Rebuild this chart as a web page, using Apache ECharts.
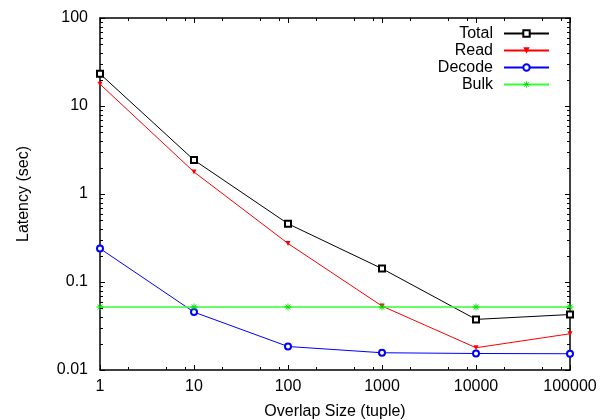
<!DOCTYPE html>
<html>
<head>
<meta charset="utf-8">
<script src="https://cdn.jsdelivr.net/npm/echarts@6/dist/echarts.min.js"></script>
<style>
  html, body { margin: 0; padding: 0; background: #fff; }
  #chart { width: 613px; height: 420px; }
</style>
</head>
<body>
<div id="chart"></div>
<script>
// overlap sizes (x) and latencies in seconds
var sizes = [1, 10, 100, 1000, 10000, 100000];
var total = [23.2, 2.43, 0.459, 0.142, 0.0376, 0.0427];
var read = [17.7, 1.78, 0.274, 0.0533, 0.0179, 0.0258];
var decode = [0.24, 0.0455, 0.0185, 0.0157, 0.0154, 0.0153];
var bulk = [0.052, 0.052, 0.052, 0.052, 0.052, 0.052];

// minor tick multipliers per decade (gnuplot style)
var xDecades = [1, 10, 100, 1000, 10000];
var xMinorMul = [2, 5, 8];
var yDecades = [0.01, 0.1, 1, 10];
var yMinorMul = [2, 3, 4, 5, 6, 7, 8, 9];

var font = 'Liberation Sans';

function pairs(ys) {
  return sizes.map(function (x, i) { return [x, ys[i]]; });
}

function fmt(v) {
  return String(Number(v.toPrecision(3)));
}

var minorTicks = [];
xDecades.forEach(function (d) {
  xMinorMul.forEach(function (m) { minorTicks.push([d * m, 1, 0]); });
});
yDecades.forEach(function (d) {
  yMinorMul.forEach(function (m) { minorTicks.push([1, d * m, 1]); });
});

var star = 'path://M-0.6,-5h1.2v10h-1.2z M-5,-0.6h10v1.2h-10z M-3.9,-3.1L-3.1,-3.9L3.9,3.1L3.1,3.9z M3.9,-3.1L3.1,-3.9L-3.9,3.1L-3.1,3.9z';

var myChart = echarts.init(document.getElementById('chart'));

var axisCommon = {
  axisLine: { lineStyle: { color: '#000', width: 1.5 } },
  axisTick: { inside: true, length: 5, lineStyle: { color: '#000', width: 1 } },
  splitLine: { show: false }
};

option = {
  backgroundColor: '#fff',
  animation: false,
  grid: { left: 100, right: 43, top: 18, bottom: 50, outerBoundsMode: 'none', containLabel: false },
  legend: {
    orient: 'vertical',
    right: 58,
    top: 20,
    align: 'right',
    itemWidth: 45,
    itemHeight: 8,
    itemGap: 0,
    textStyle: { fontFamily: font, fontSize: 16, color: '#000', lineHeight: 17, padding: [0, 6, 0, 0] },
    data: ['Total', 'Read', 'Decode', 'Bulk']
  },
  xAxis: [
    Object.assign({
      type: 'log', logBase: 10, min: 1, max: 100000,
      name: 'Overlap Size (tuple)', nameLocation: 'middle', nameGap: 34,
      nameTextStyle: { fontFamily: font, fontSize: 16, color: '#000' },
      axisLabel: { fontFamily: font, fontSize: 16, color: '#000', margin: 9, formatter: fmt }
    }, axisCommon),
    Object.assign({
      type: 'log', logBase: 10, min: 1, max: 100000, position: 'top',
      axisLabel: { show: false }
    }, axisCommon)
  ],
  yAxis: [
    Object.assign({
      type: 'log', logBase: 10, min: 0.01, max: 100,
      name: 'Latency (sec)', nameLocation: 'middle', nameGap: 68, nameRotate: 90,
      nameTextStyle: { fontFamily: font, fontSize: 16, color: '#000' },
      axisLabel: { fontFamily: font, fontSize: 16, color: '#000', margin: 12, formatter: fmt }
    }, axisCommon),
    Object.assign({
      type: 'log', logBase: 10, min: 0.01, max: 100, position: 'right',
      axisLabel: { show: false }
    }, axisCommon)
  ],
  series: [
    {
      type: 'custom',
      silent: true,
      clip: false,
      z: 5,
      data: minorTicks,
      renderItem: function (params, api) {
        var cs = params.coordSys;
        var p = api.coord([api.value(0), api.value(1)]);
        var style = { stroke: '#000', lineWidth: 1 };
        if (api.value(2) === 0) {
          var x = Math.round(p[0]) + 0.5;
          var b = cs.y + cs.height, t = cs.y;
          return { type: 'group', children: [
            { type: 'line', shape: { x1: x, y1: b, x2: x, y2: b - 3 }, style: style },
            { type: 'line', shape: { x1: x, y1: t, x2: x, y2: t + 3 }, style: style }
          ] };
        }
        var y = Math.round(p[1]) + 0.5;
        var l = cs.x, r = cs.x + cs.width;
        return { type: 'group', children: [
          { type: 'line', shape: { x1: l, y1: y, x2: l + 3, y2: y }, style: style },
          { type: 'line', shape: { x1: r, y1: y, x2: r - 3, y2: y }, style: style }
        ] };
      }
    },
    {
      name: 'Total', type: 'line', data: pairs(total),
      symbol: 'emptyRect', symbolSize: 6,
      lineStyle: { color: '#000', width: 1 },
      itemStyle: { color: '#000', borderWidth: 1 }
    },
    {
      name: 'Read', type: 'line', data: pairs(read),
      symbol: 'triangle', symbolRotate: 180, symbolSize: 5,
      lineStyle: { color: '#ff0000', width: 1 },
      itemStyle: { color: '#ff0000' }
    },
    {
      name: 'Decode', type: 'line', data: pairs(decode),
      symbol: 'emptyCircle', symbolSize: 6,
      lineStyle: { color: '#0000ff', width: 1 },
      itemStyle: { color: '#0000ff', borderWidth: 1 }
    },
    {
      name: 'Bulk', type: 'line', data: pairs(bulk),
      symbol: star, symbolSize: 7,
      lineStyle: { color: '#33ff33', width: 1.5 },
      itemStyle: { color: '#00dd00' }
    }
  ]
};
myChart.setOption(option);
</script>
</body>
</html>
